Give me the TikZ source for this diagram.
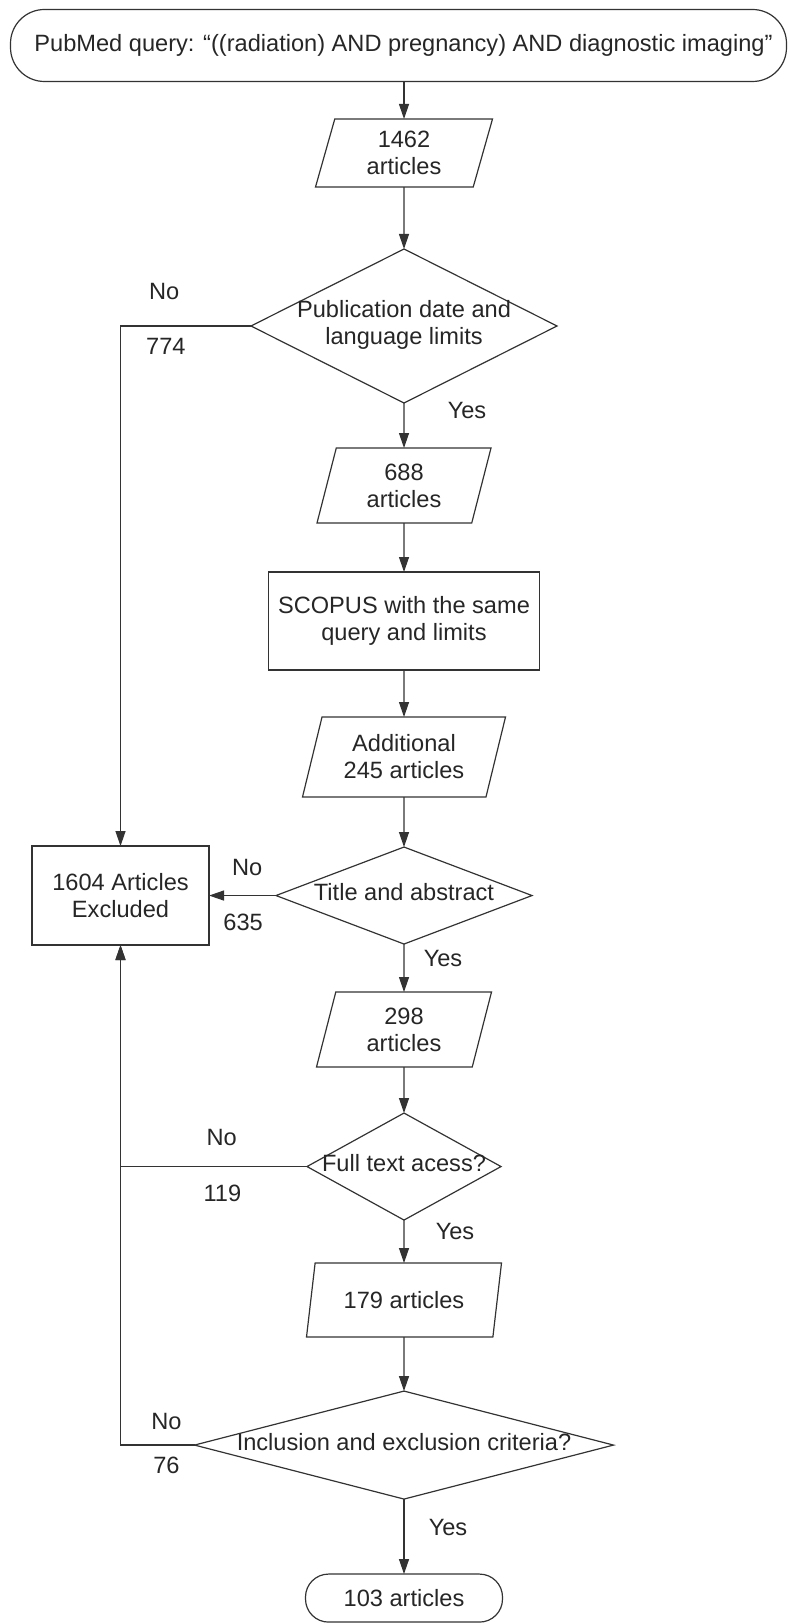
\documentclass[tikz,border=0pt]{standalone}
\usepackage{fontspec}
\setmainfont{Liberation Sans}
\usetikzlibrary{arrows.meta,positioning,shapes.geometric}
\newcommand{\nowidth}[1]{\makebox[0pt]{\begin{tabular}{@{}c@{}}#1\end{tabular}}}
\begin{document}
\begin{tikzpicture}[x=1pt,y=1pt,>={Triangle[length=15pt,width=10pt]},
  line width=1.2pt,draw=black!80,
  font=\fontsize{23.6pt}{27pt}\selectfont, text=black!85,
  base/.style={draw=black!80,line width=1.2pt,outer sep=0pt,align=center},
  term/.style={base,rectangle,rounded corners=#1},
  dataio/.style={base,trapezium,trapezium left angle=68,trapezium right angle=112,
  trapezium stretches body,inner sep=2pt},
  proc/.style={base,rectangle},
  decision/.style={base,diamond,inner sep=0pt},
  lbl/.style={inner sep=0pt}]
\useasboundingbox (0,0) rectangle (787,-1624);
\node[term=34pt,minimum width=776pt,minimum height=72pt] (top) at (398.5,-45.5)
  {\hspace*{10pt}PubMed query: “((radiation) AND pregnancy) AND diagnostic imaging”};
\node[dataio,minimum width=177pt,minimum height=68pt] (p1) at (404,-153) {1462\\articles};
\node[decision,minimum width=306pt,minimum height=154pt,below=62pt of p1] (d1)
  {\nowidth{Publication date and\\language limits}};
\node[dataio,minimum width=174pt,minimum height=75pt,below=45pt of d1] (p2) {688\\articles};
\node[proc,minimum width=271pt,minimum height=98pt,below=49pt of p2] (scopus)
  {SCOPUS with the same\\query and limits};
\node[dataio,minimum width=203pt,minimum height=80pt,below=47pt of scopus] (p3)
  {Additional\\245 articles};
\node[decision,minimum width=256pt,minimum height=97pt,below=50pt of p3] (d2)
  {\nowidth{Title and abstract}};
\node[dataio,minimum width=175pt,minimum height=75pt,below=48pt of d2] (p4) {298\\articles};
\node[decision,minimum width=194pt,minimum height=107pt,below=46pt of p4] (d3)
  {\nowidth{Full text acess?}};
\node[dataio,minimum width=195pt,minimum height=74pt,below=43pt of d3] (p5) {179 articles};
\node[decision,minimum width=419pt,minimum height=108pt,below=54pt of p5] (d4)
  {\nowidth{Inclusion and exclusion criteria?}};
\node[term=23pt,minimum width=197pt,minimum height=48pt,below=75pt of d4] (fin) {103 articles};
\node[proc,minimum width=177pt,minimum height=99pt,left=67pt of d2] (excl)
  {1604 Articles\\Excluded};
% main column
\draw[->] (top.south -| p1.north) -- (p1.north);
\foreach \a/\b in {p1/d1,p2/scopus,scopus/p3,p3/d2,p4/d3,p5/d4} \draw[->] (\a)--(\b);
\draw[->] (d1) -- node[lbl,pos=0.16,xshift=63pt] (yes1) {Yes} (p2);
\draw[->] (d2) -- node[lbl,pos=0.31,xshift=39pt] (yes2) {Yes} (p4);
\draw[->] (d3) -- node[lbl,pos=0.27,xshift=51pt] (yes3) {Yes} (p5);
\draw[->] (d4) -- node[lbl,pos=0.38,xshift=44pt] (yes4) {Yes} (fin);
% excluded branches
\draw[->] (d1.west) -| node[lbl,pos=0.333,yshift=35pt] (no1) {No}
  node[lbl,pos=0.326,yshift=-20pt] (cut1) {774} (excl.north);
\draw[->] (d2) -- node[lbl,pos=0.43,yshift=28pt] (no2) {No}
  node[lbl,pos=0.49,yshift=-27pt] (cut2) {635} (excl);
\draw[->] (d3.west) -| node[lbl,pos=0.229,yshift=29pt] (no3) {No}
  node[lbl,pos=0.227,yshift=-27pt] (cut3) {119} (excl.south);
\draw[->] (d4.west) -| node[lbl,pos=0.19,yshift=24pt] (no4) {No}
  node[lbl,pos=0.19,yshift=-20pt] (cut4) {76} (excl.south);
\end{tikzpicture}
\end{document}
